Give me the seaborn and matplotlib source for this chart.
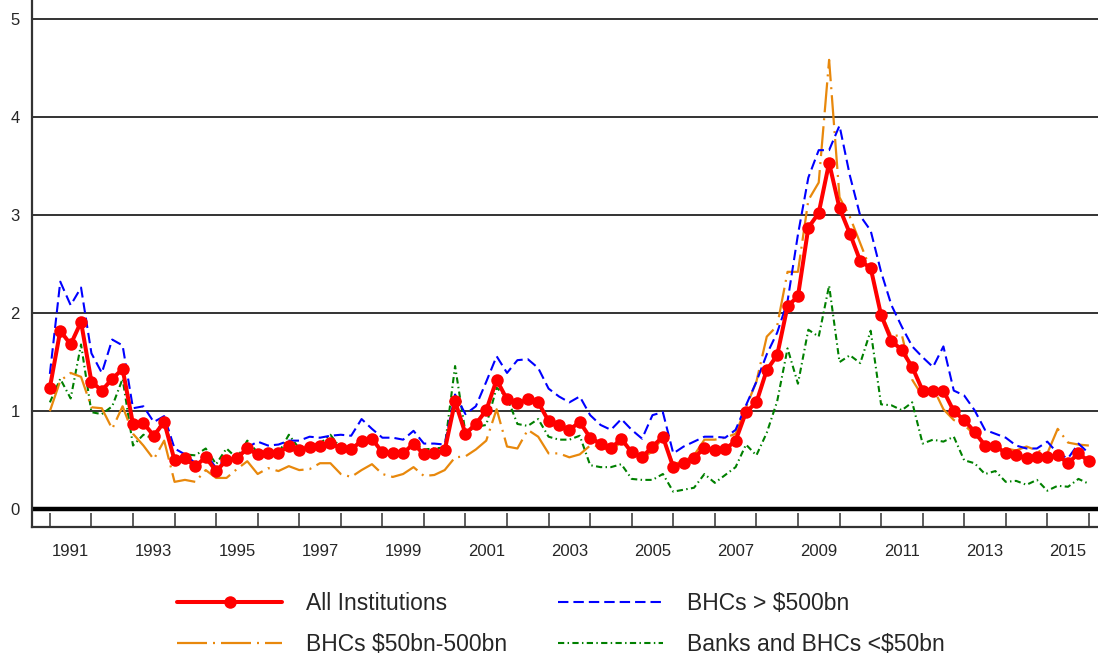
import numpy as np
import pandas as pd
import matplotlib
matplotlib.use("Agg")
import matplotlib.pyplot as plt
import seaborn as sns

# quarterly observations, 1991Q1 .. 2016Q1
start_year = 1991
n_quarters = 101

all_inst = [
    1.24, 1.82, 1.68, 1.91,  1.30, 1.21, 1.33, 1.43,  0.87, 0.88, 0.75, 0.89,
    0.50, 0.52, 0.44, 0.53,  0.39, 0.50, 0.52, 0.62,  0.56, 0.57, 0.57, 0.65,
    0.60, 0.64, 0.65, 0.68,  0.62, 0.61, 0.70, 0.72,  0.58, 0.57, 0.57, 0.67,
    0.56, 0.57, 0.60, 1.10,  0.77, 0.87, 1.01, 1.32,  1.12, 1.08, 1.12, 1.09,
    0.90, 0.86, 0.81, 0.89,  0.73, 0.67, 0.62, 0.72,  0.58, 0.53, 0.64, 0.74,
    0.43, 0.47, 0.52, 0.63,  0.60, 0.61, 0.70, 0.99,  1.09, 1.42, 1.57, 2.07,
    2.17, 2.87, 3.02, 3.53,  3.07, 2.81, 2.53, 2.46,  1.98, 1.72, 1.62, 1.45,
    1.21, 1.21, 1.21, 1.00,  0.91, 0.79, 0.65, 0.65,  0.57, 0.55, 0.52, 0.53,
    0.53, 0.55, 0.47, 0.57,  0.49,
]
bhc_large = [
    1.38, 2.32, 2.08, 2.26,  1.59, 1.39, 1.73, 1.67,  1.03, 1.05, 0.89, 0.95,
    0.62, 0.56, 0.47, 0.57,  0.42, 0.52, 0.53, 0.63,  0.69, 0.65, 0.66, 0.70,
    0.70, 0.74, 0.73, 0.75,  0.76, 0.75, 0.92, 0.82,  0.73, 0.73, 0.71, 0.80,
    0.67, 0.67, 0.66, 1.17,  0.97, 1.05, 1.30, 1.56,  1.39, 1.52, 1.53, 1.44,
    1.23, 1.15, 1.09, 1.15,  0.96, 0.86, 0.81, 0.92,  0.81, 0.72, 0.96, 0.99,
    0.57, 0.64, 0.69, 0.74,  0.74, 0.73, 0.81, 1.06,  1.30, 1.58, 1.80, 2.12,
    2.80, 3.38, 3.66, 3.66,  3.91, 3.40, 2.99, 2.84,  2.42, 2.08, 1.86, 1.66,
    1.55, 1.45, 1.66, 1.21,  1.16, 1.01, 0.81, 0.77,  0.73, 0.65, 0.62, 0.62,
    0.69, 0.57, 0.52, 0.67,  0.57,
]
bhc_mid = [
    1.00, 1.31, 1.39, 1.35,  1.04, 1.03, 0.82, 1.05,  0.77, 0.65, 0.51, 0.70,
    0.28, 0.30, 0.28, 0.40,  0.32, 0.32, 0.41, 0.49,  0.36, 0.42, 0.39, 0.44,
    0.40, 0.41, 0.47, 0.47,  0.36, 0.33, 0.40, 0.46,  0.36, 0.33, 0.36, 0.43,
    0.34, 0.35, 0.40, 0.53,  0.54, 0.61, 0.70, 1.02,  0.64, 0.62, 0.81, 0.74,
    0.57, 0.57, 0.53, 0.56,  0.65, 0.64, 0.59, 0.69,  0.60, 0.52, 0.59, 0.73,
    0.46, 0.49, 0.55, 0.71,  0.71, 0.73, 0.77, 1.04,  1.30, 1.76, 1.87, 2.42,
    2.42, 3.15, 3.33, 4.58,  3.18, 2.98, 2.71, 2.44,  2.00, 1.76, 1.78, 1.32,
    1.15, 1.24, 1.02, 0.91,  0.86, 0.76, 0.67, 0.65,  0.62, 0.60, 0.64, 0.60,
    0.57, 0.82, 0.68, 0.66,  0.65,
]
banks_small = [
    1.09, 1.33, 1.13, 1.68,  0.99, 0.97, 1.05, 1.33,  0.65, 0.76, 0.72, 0.94,
    0.50, 0.56, 0.55, 0.62,  0.46, 0.62, 0.52, 0.70,  0.58, 0.57, 0.57, 0.76,
    0.62, 0.66, 0.67, 0.76,  0.62, 0.63, 0.67, 0.72,  0.58, 0.56, 0.56, 0.67,
    0.61, 0.62, 0.63, 1.46,  0.78, 0.84, 0.86, 1.24,  1.14, 0.87, 0.85, 0.92,
    0.74, 0.71, 0.71, 0.75,  0.45, 0.43, 0.43, 0.46,  0.31, 0.30, 0.30, 0.36,
    0.18, 0.20, 0.22, 0.36,  0.27, 0.35, 0.43, 0.66,  0.55, 0.78, 1.10, 1.64,
    1.28, 1.83, 1.76, 2.28,  1.50, 1.57, 1.49, 1.82,  1.07, 1.06, 1.01, 1.09,
    0.67, 0.71, 0.69, 0.74,  0.50, 0.47, 0.36, 0.39,  0.28, 0.29, 0.25, 0.30,
    0.19, 0.24, 0.23, 0.31,  0.26,
]

labels = ["All Institutions", "BHCs > $500bn", "BHCs $50bn-500bn", "Banks and BHCs <$50bn"]
year_ticks = list(range(1991, 2017))
year_labels = [str(y) for y in range(1991, 2016, 2)]

quarter = start_year + np.arange(n_quarters) * 0.25
df = pd.DataFrame({"t": quarter, "all": all_inst, "large": bhc_large,
                   "mid": bhc_mid, "small": banks_small})

sns.set_style("white")
plt.rcParams["font.family"] = ["Liberation Sans", "DejaVu Sans"]

fig = plt.figure(figsize=(10.98, 6.59), dpi=100)
ax = fig.add_axes([32 / 1098, 132 / 659, 1066 / 1098, 527 / 659])

# gridlines + heavy zero line
for v in range(1, 6):
    ax.axhline(v, color="#333333", lw=1.4, zorder=1)
ax.axhline(0, color="black", lw=3.2, zorder=2)

sns.lineplot(data=df, x="t", y="small", ax=ax, color="#008000", lw=1.5,
             linestyle=(0, (3.0, 1.6, 0.7, 1.6)), label=labels[3], legend=False, zorder=3)
sns.lineplot(data=df, x="t", y="mid", ax=ax, color="#e8880c", lw=1.6,
             linestyle=(0, (13.5, 2.7, 0.9, 2.7)), label=labels[2], legend=False, zorder=4)
sns.lineplot(data=df, x="t", y="large", ax=ax, color="#0000ff", lw=1.5,
             linestyle=(0, (5.0, 2.4)), label=labels[1], legend=False, zorder=5)
sns.lineplot(data=df, x="t", y="all", ax=ax, color="#ff0000", lw=2.9,
             marker="o", markersize=9, markeredgewidth=0, label=labels[0],
             legend=False, zorder=6)

ax.set_xlim(1990.57, 2016.22)
ax.set_ylim(-0.18, 5.19)
ax.set_xlabel("")
ax.set_ylabel("")

ax.set_xticks(year_ticks)
ax.set_xticklabels([])
ax.set_xticks([int(s) + 0.5 for s in year_labels], minor=True)
ax.set_xticklabels(year_labels, minor=True)
ax.tick_params(axis="x", which="major", direction="in", length=10, width=1.1,
               color="#333333", bottom=True)
ax.tick_params(axis="x", which="minor", length=0, pad=12, labelsize=12)
ax.set_yticks(range(0, 6))
ax.tick_params(axis="y", length=0, pad=9, labelsize=12, left=False)

for side in ["top", "right"]:
    ax.spines[side].set_visible(False)
for side in ["left", "bottom"]:
    ax.spines[side].set_color("#333333")
    ax.spines[side].set_linewidth(1.6)

handles, lbls = ax.get_legend_handles_labels()
order = [lbls.index(labels[i]) for i in (0, 2, 1, 3)]
fig.legend([handles[i] for i in order], [lbls[i] for i in order],
           loc="center", bbox_to_anchor=(0.511, 0.053), ncol=2, frameon=False,
           fontsize=16.5, handlelength=4.6, handletextpad=1.05,
           columnspacing=2.2, labelspacing=0.75)

fig.savefig("out.png", dpi=100)
